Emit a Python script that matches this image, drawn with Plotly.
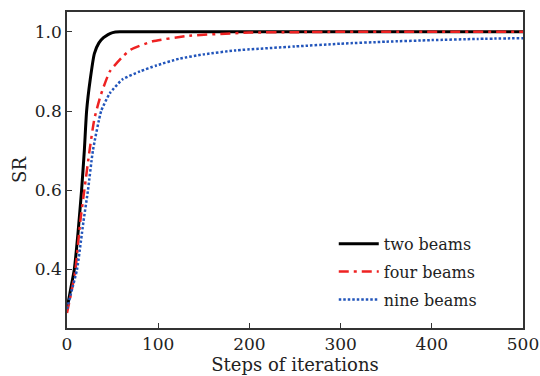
import plotly.graph_objects as go

two_x = [0, 4, 8, 12, 16, 19, 21.5, 25.5, 30, 35, 40, 45, 50, 58, 80, 150, 300, 500]
two_y = [0.30, 0.35, 0.40, 0.49, 0.60, 0.70, 0.80, 0.88, 0.945, 0.972, 0.985, 0.993, 0.998, 1.0, 1.0, 1.0, 1.0, 1.0]

four_x = [0, 5, 9.3, 14.5, 19, 24.7, 30, 37, 47, 60, 70, 94, 134, 200, 250, 300, 500]
four_y = [0.29, 0.345, 0.40, 0.52, 0.60, 0.70, 0.78, 0.84, 0.90, 0.935, 0.955, 0.976, 0.99, 0.998, 0.999, 1.0, 1.0]

nine_x = [0, 5, 11, 18, 23, 28.4, 37.5, 47, 61, 80, 98, 123, 150, 185, 250, 300, 350, 400, 450, 500]
nine_y = [0.30, 0.345, 0.40, 0.52, 0.60, 0.70, 0.80, 0.845, 0.88, 0.90, 0.915, 0.932, 0.943, 0.953, 0.963, 0.970, 0.975, 0.979, 0.982, 0.984]

FONT = "DejaVu Serif"
TXT = "#222222"

fig = go.Figure()
fig.add_trace(go.Scatter(x=two_x, y=two_y, mode="lines", name="two beams", legendgroup="a",
                         line=dict(color="black", width=3, shape="spline", smoothing=0.5)))
fig.add_trace(go.Scatter(x=four_x, y=four_y, mode="lines", name="four beams", legendgroup="b",
                         line=dict(color="#ee2222", width=2.5, dash="10px,5px,3px,5px", shape="spline", smoothing=0.5)))
fig.add_trace(go.Scatter(x=nine_x, y=nine_y, mode="lines", name="nine beams", legendgroup="c",
                         line=dict(color="#2255bb", width=2.5, dash="2.5px,2px", shape="spline", smoothing=0.5)))

axis_common = dict(showline=True, linecolor="#333333", linewidth=1.5, mirror=True,
                   ticks="inside", ticklen=5, tickwidth=1.2, tickcolor="#333333",
                   showgrid=False, zeroline=False, automargin=False,
                   tickfont=dict(family=FONT, size=17, color=TXT))

fig.update_xaxes(range=[0, 500], tickvals=[0, 100, 200, 300, 400, 500],
                 title=dict(text="Steps of iterations", font=dict(family=FONT, size=18, color=TXT), standoff=0),
                 **axis_common)
fig.update_yaxes(range=[0.252, 1.05], tickvals=[0.4, 0.6, 0.8, 1.0], tickformat=".1f",
                 title=dict(text="SR", font=dict(family=FONT, size=18, color=TXT), standoff=4),
                 **axis_common)

fig.update_layout(width=540, height=376, margin=dict(l=67, r=17, t=12, b=48),
                  paper_bgcolor="white", plot_bgcolor="white",
                  font=dict(family=FONT, size=16, color=TXT),
                  legend=dict(x=0.585, y=0.32, xanchor="left", yanchor="top",
                              bgcolor="rgba(0,0,0,0)", font=dict(family=FONT, size=16, color=TXT),
                              itemwidth=40, tracegroupgap=4))

fig.write_html("out.html")
